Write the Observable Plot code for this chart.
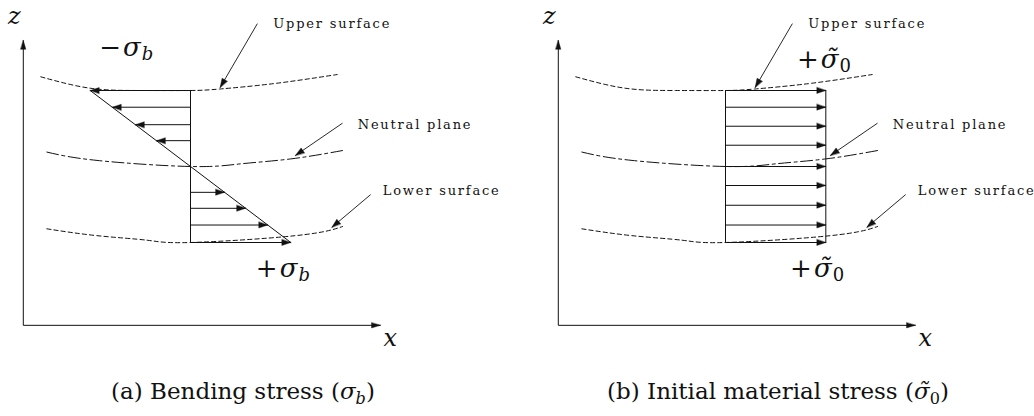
<!DOCTYPE html>
<html>
<head>
<meta charset="utf-8">
<script src="https://cdn.jsdelivr.net/npm/d3@7"></script>
<script src="https://cdn.jsdelivr.net/npm/@observablehq/plot@0.6"></script>
<style>
  html, body { margin: 0; padding: 0; background: #fff; overflow: hidden; width: 1034px; height: 416px; }
  #figure { position: relative; width: 1034px; height: 416px; }
  .panel { position: absolute; top: 0; width: 535px; height: 416px; }
  .panel svg { position: absolute; left: 0; top: 0; overflow: visible; max-width: none !important; }
  .panel svg g[aria-description="callout"] text { letter-spacing: 1.8px; }
  .caption {
    position: absolute; top: 380px; left: 243px; transform: translateX(-50%);
    white-space: nowrap; font: 23px "DejaVu Serif", serif;
    line-height: 1; color: #111;
  }
  .caption sub { font-size: 70%; line-height: 0; vertical-align: baseline; position: relative; top: 0.28em; }
  .caption i { font-style: italic; }
</style>
</head>
<body>
<div id="figure"></div>
<script>
// Beam coordinates: x along the beam (0 at the sampled cross-section),
// z through the thickness (0 on the neutral plane, surfaces at about ±10).
const upperX = [-19.7, -13.2, -6.6, 0, 3.9, 10.9, 19.3];
const upperZ = [11.8, 10.3, 10.0, 10.0, 10.2, 10.9, 12.1];
const neutralX = [-18.9, -12.3, 0, 6.6, 13.2, 20.0];
const neutralZ = [1.9, 0.8, 0, 0.35, 1.0, 2.1];
const lowerX = [-18.9, -12.3, -5.7, 0, 13.8, 20.0];
const lowerZ = [-8.2, -9.1, -9.7, -10.0, -9.1, -7.9];

// (a) bending stress, in units of σb: compression above the neutral plane, tension below
const bendingZ = [10, 7.8, 5.5, 3.4, -3.4, -5.5, -7.7, -10];
const bendingStress = [-1, -0.78, -0.55, -0.34, 0.34, 0.55, 0.77, 1];
const bendingProfileZ = [10, 0, -10];
const bendingProfileStress = [-1, 0, 1];

// (b) initial material stress, in units of σ̃0: uniform through the thickness
const initialZ = [10, 7.8, 5.3, 2.8, 0, -2.5, -5.1, -7.7, -10];
const initialStress = [1, 1, 1, 1, 1, 1, 1, 1, 1];
const initialProfileZ = [10, -10];
const initialProfileStress = [1, 1];

// section line through the thickness
const sectionZ = [10, -10];

// coordinate frame (x, z axes)
const frameOrigin = {x: -22, z: -20.9};
const frameXEnd = 25.0;
const frameZEnd = 16.6;
const axisLabels = [
  {text: "z", x: -24, z: 18.8},
  {text: "x", x: 25.4, z: -23.6}
];

// callouts naming the three planes
const calloutText = ["Upper surface", "Neutral plane", "Lower surface"];
const calloutTextX = [10.9, 22.0, 25.3];
const calloutTextZ = [18.2, 4.95, -3.7];
const calloutFromX = [8.8, 20.0, 23.7];
const calloutFromZ = [18.8, 5.7, -3.7];
const calloutToX = [3.9, 13.8, 18.6];
const calloutToZ = [10.4, 1.45, -8.0];

// stress labels (base_subscript)
const labelsA = [{text: "−σ_b", x: -12.0, z: 14.5}, {text: "+σ_b", x: 8.6, z: -14.6}];
const labelsB = [{text: "+σ\u0303_0", x: 9.4, z: 13.0}, {text: "+σ\u0303_0", x: 8.5, z: -14.6}];

const captionA = "(a) Bending stress (<i>σ</i><sub><i>b</i></sub>)";
const captionB = "(b) Initial material stress (<i>σ\u0303</i><sub>0</sub>)";

// drawing scale
const unit = 7.6;                 // pixels per beam unit on both axes
const sectionPx = 190, neutralPx = 166;
const stressLength = 13.2;        // beam units drawn for a unit stress
const xDomain = [-26, 44], zDomain = [-32, 22];
const ink = "#111";
const serif = "DejaVu Serif";

const zip = (xs, zs) => xs.map((x, i) => ({x, z: zs[i]}));
const upper = zip(upperX, upperZ);
const neutral = zip(neutralX, neutralZ);
const lower = zip(lowerX, lowerZ);
const callouts = calloutText.map((text, i) => ({
  text, tx: calloutTextX[i], tz: calloutTextZ[i],
  x1: calloutFromX[i], z1: calloutFromZ[i], x2: calloutToX[i], z2: calloutToZ[i]
}));
const frameAxes = [
  {x1: frameOrigin.x, z1: frameOrigin.z, x2: frameOrigin.x, z2: frameZEnd},
  {x1: frameOrigin.x, z1: frameOrigin.z, x2: frameXEnd, z2: frameOrigin.z}
];

// filled arrowhead, tip at the vector's end
const triangle = {
  draw(context, l, r) {
    context.moveTo(0, -l);
    context.lineTo(r, 0);
    context.lineTo(-r, 0);
    context.closePath();
  }
};

function heads(data, length, r) {
  return Plot.vector(data, {
    x: "x2", y: "z2", anchor: "end", length, r, shape: triangle,
    rotate: d => Math.atan2(d.x2 - d.x1, d.z2 - d.z1) * 180 / Math.PI,
    fill: ink, stroke: ink, strokeWidth: 0.4
  });
}

function arrows(data, {length = 9, r = 3, strokeWidth = 1} = {}) {
  return [
    Plot.link(data, {x1: "x1", y1: "z1", x2: "x2", y2: "z2", stroke: ink, strokeWidth}),
    heads(data, length, r)
  ];
}

function stressArrows(zs, stresses) {
  return zs.map((z, i) => ({x1: 0, z1: z, x2: stresses[i] * stressLength, z2: z}));
}

function panel(labels, stressMarks) {
  const arrowsForCallouts = callouts.map(c => ({x1: c.x1, z1: c.z1, x2: c.x2, z2: c.z2}));
  return Plot.plot({
    width: 535,
    height: 416,
    margin: 0,
    x: {domain: xDomain, range: xDomain.map(v => sectionPx + v * unit), axis: null},
    y: {domain: zDomain, range: zDomain.map(v => neutralPx - v * unit), axis: null},
    style: {background: "transparent", overflow: "visible", fontFamily: serif},
    marks: [
      // coordinate frame
      arrows(frameAxes, {length: 9, r: 2.6}),
      Plot.text(axisLabels, {
        x: "x", y: "z", text: "text", textAnchor: "start", lineAnchor: "bottom",
        fontFamily: serif, fontStyle: "italic", fontSize: 24, fill: ink
      }),
      // bent surfaces
      Plot.line(upper, {x: "x", y: "z", curve: "natural", stroke: ink, strokeWidth: 1, strokeDasharray: "4.2,3"}),
      Plot.line(neutral, {x: "x", y: "z", curve: "natural", stroke: ink, strokeWidth: 1, strokeDasharray: "12,3.5,3,3.5"}),
      Plot.line(lower, {x: "x", y: "z", curve: "natural", stroke: ink, strokeWidth: 1, strokeDasharray: "4.2,3"}),
      // stress distribution
      ...stressMarks,
      // callouts
      arrows(arrowsForCallouts, {length: 9, r: 3, strokeWidth: 0.9}),
      Plot.text(callouts, {
        x: "tx", y: "tz", text: "text", textAnchor: "start", lineAnchor: "bottom",
        fontFamily: serif, fontSize: 13, fill: ink,
        ariaDescription: "callout"
      }),
      // stress labels
      Plot.text(labels, {
        x: "x", y: "z", text: "text", textAnchor: "start", lineAnchor: "bottom",
        fontFamily: serif, fontSize: 26, fill: ink,
        ariaDescription: "math"
      })
    ]
  });
}

// set "base_sub" labels as math: σ italic, subscript smaller and lowered
function typeset(svg) {
  svg.querySelectorAll('g[aria-description="math"] text').forEach(node => {
    const [base, sub] = node.textContent.split("_");
    node.textContent = "";
    const ns = "http://www.w3.org/2000/svg";
    const sign = document.createElementNS(ns, "tspan");
    sign.textContent = base[0];
    node.appendChild(sign);
    const sym = document.createElementNS(ns, "tspan");
    sym.textContent = base.slice(1);
    sym.setAttribute("font-style", "italic");
    sym.setAttribute("dx", "2");
    node.appendChild(sym);
    if (sub) {
      const s = document.createElementNS(ns, "tspan");
      s.textContent = sub;
      s.setAttribute("font-size", "18");
      s.setAttribute("dy", "4");
      s.setAttribute("dx", "1");
      if (/[a-z]/.test(sub)) s.setAttribute("font-style", "italic");
      node.appendChild(s);
    }
  });
  return svg;
}

const bending = stressArrows(bendingZ, bendingStress);
const bendingProfile = zip(bendingProfileStress.map(s => s * stressLength), bendingProfileZ);
const initial = stressArrows(initialZ, initialStress);
const initialProfile = zip(initialProfileStress.map(s => s * stressLength), initialProfileZ);

const panelA = panel(labelsA, [
  Plot.line(sectionZ, {x: () => 0, y: d => d, stroke: ink, strokeWidth: 1}),
  ...arrows(bending, {length: 9, r: 3}),
  Plot.line(bendingProfile, {x: "x", y: "z", stroke: ink, strokeWidth: 1})
]);

const panelB = panel(labelsB, [
  Plot.line(sectionZ, {x: () => 0, y: d => d, stroke: ink, strokeWidth: 1}),
  Plot.line(initialProfile, {x: "x", y: "z", stroke: ink, strokeWidth: 1}),
  ...arrows(initial, {length: 9, r: 3})
]);

const figure = document.getElementById("figure");
[[panelA, captionA, 0], [panelB, captionB, 535]].forEach(([svg, caption, left]) => {
  const div = document.createElement("div");
  div.className = "panel";
  div.style.left = left + "px";
  div.appendChild(typeset(svg));
  const cap = document.createElement("div");
  cap.className = "caption";
  cap.innerHTML = caption;
  div.appendChild(cap);
  figure.appendChild(div);
});
</script>
</body>
</html>
